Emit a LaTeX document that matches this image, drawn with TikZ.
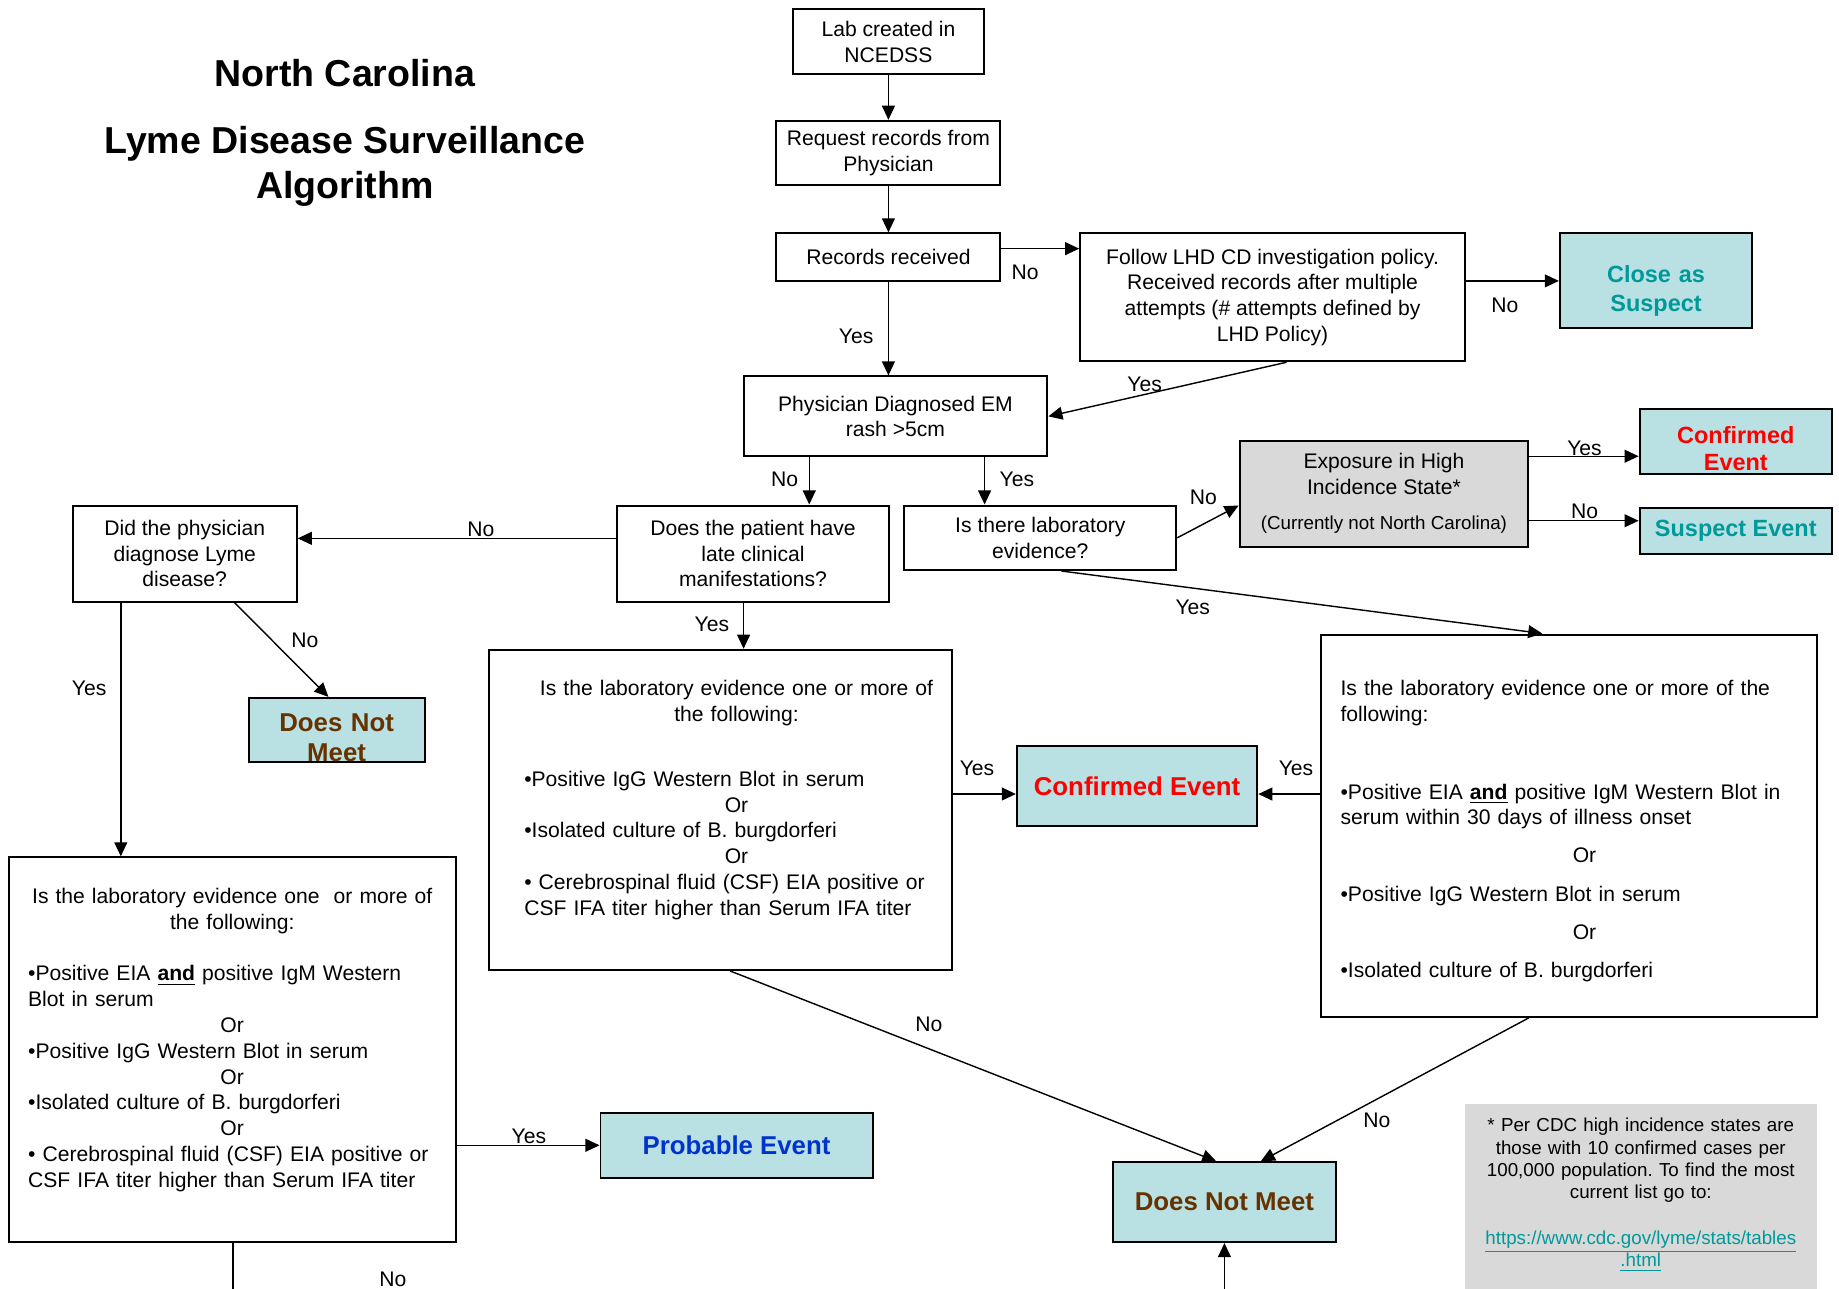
\documentclass[tikz,border=0pt]{standalone}
\usepackage{fontspec}
\setmainfont{Liberation Sans}
\usepackage{tikz}
\usetikzlibrary{arrows.meta,calc,positioning}
\definecolor{boxcyan}{RGB}{185,224,227}
\definecolor{greyfill}{RGB}{217,217,217}
\definecolor{tealtxt}{RGB}{0,153,153}
\definecolor{redtxt}{RGB}{255,0,0}
\definecolor{bluetxt}{RGB}{0,51,204}
\definecolor{browntxt}{RGB}{102,51,0}
\newcommand{\orln}[1]{\makebox[#1]{Or}}
\frenchspacing

\begin{document}
\begin{tikzpicture}[x=0.5pt,y=-0.5pt,
    box/.style={draw,line width=0.85pt,align=center,inner sep=0pt,font=\fontsize{9}{11}\selectfont},
    endbox/.style={box,fill=boxcyan,font=\fontsize{11}{13}\selectfont\bfseries},
    smallend/.style={endbox,font=\fontsize{10}{11.5}\selectfont\bfseries},
    bigbox/.style={draw,line width=0.85pt,align=left,inner ysep=0pt,inner xsep=1.5pt,font=\fontsize{9}{11}\selectfont},
    ttl/.style={font=\fontsize{16}{19}\selectfont\bfseries,inner sep=0pt},
    lbl/.style={font=\fontsize{9}{11}\selectfont,inner sep=0pt},
    flow/.style={line width=0.6pt,-{Triangle[length=6pt,width=5.5pt]}}]
    \useasboundingbox (0,0) rectangle (1568,1099);

    \node[ttl,anchor=base] (ttla) at (294,74) {North Carolina};
    \node[ttl,anchor=base] (ttlb) at (294,131) {Lyme Disease Surveillance};
    \node[ttl,anchor=base] (ttlc) at (294,169) {Algorithm};

    \node[box,minimum width=81.5pt,minimum height=27.5pt] (lab) at (757.5,35.5) {Lab created in\\NCEDSS};
    \node[box,minimum width=95.5pt,minimum height=27.5pt] (req) at (757.5,130.5) {Request records from\\Physician};
    \node[box,minimum width=95.5pt,minimum height=20.5pt] (rec) at (757.5,219.5) {Records received};
    \node[box,minimum width=164pt,minimum height=54.5pt] (lhd) at (1085,253.5) {Follow LHD CD investigation policy.\\Received records after multiple\\attempts (\# attempts defined by\\LHD Policy)};
    \node[smallend,text=tealtxt,font=\fontsize{10}{12.5}\selectfont\bfseries,text width=82pt,text height=21pt,text depth=19.5pt] (close) at (1412,239.5) {Close as\\Suspect};
    \node[box,minimum width=129.5pt,minimum height=34pt] (em) at (763.5,355) {Physician Diagnosed EM\\rash >5cm};
    \node[box,minimum width=116pt,minimum height=27.5pt] (labq) at (887,458.5) {Is there laboratory\\evidence?};
    \node[box,fill=greyfill,minimum width=123pt,minimum height=45pt] (expo) at (1180,421) {Exposure in High\\Incidence State*\\[4pt]{\fontsize{8}{10}\selectfont(Currently not North Carolina)}};
    \node[smallend,text=redtxt,text width=82pt,text height=14.5pt,text depth=13pt] (conf) at (1480,376.5) {Confirmed\\Event};
    \node[smallend,text=tealtxt,minimum width=82pt,minimum height=19.5pt] (susp) at (1480,452.5) {Suspect Event};
    \node[box,minimum width=116pt,minimum height=41pt] (late) at (642,472) {Does the patient have\\late clinical\\manifestations?};
    \node[box,minimum width=95.5pt,minimum height=41pt] (did) at (157.5,472) {Did the physician\\diagnose Lyme\\disease?};
    \node[endbox,text=browntxt,font=\fontsize{11}{12.5}\selectfont\bfseries,text width=75pt,text height=14.5pt,text depth=13pt] (dnma) at (287,622.5) {Does Not\\Meet};

    \node[bigbox,text width=194.5pt,text height=19.7pt,text depth=116.8pt] (labmid) at (614.5,690.5) {\leftskip=13.5pt
      \makebox[181pt]{Is the laboratory evidence one or more of}\\
      \makebox[181pt]{the following:}\\[16.5pt]
      •Positive IgG Western Blot in serum\\
      \orln{181pt}\\
      •Isolated culture of B. burgdorferi\\
      \orln{181pt}\\
      • Cerebrospinal fluid (CSF) EIA positive or\\
      CSF IFA titer higher than Serum IFA titer\par};
    \node[bigbox,text width=208.5pt,text height=26.2pt,text depth=136.8pt] (labright) at (1337.5,704) {\leftskip=7pt
      Is the laboratory evidence one or more of the\\
      following:\\[22pt]
      •Positive EIA \underline{\textbf{and}} positive IgM Western Blot in\\
      serum within 30 days of illness onset\\[5pt]
      \orln{208pt}\\[5.5pt]
      •Positive IgG Western Blot in serum\\[5.5pt]
      \orln{208pt}\\[5pt]
      •Isolated culture of B. burgdorferi\par};
    \node[bigbox,text width=187.5pt,text height=19.7pt,text depth=144.3pt] (lableft) at (198.5,895) {\leftskip=6.5pt
      \makebox[174pt]{Is the laboratory evidence one\ \ or more of}\\
      \makebox[174pt]{the following:}\\[11pt]
      •Positive EIA \underline{\textbf{and}} positive IgM Western\\
      Blot in serum\\
      \orln{174pt}\\
      •Positive IgG Western Blot in serum\\
      \orln{174pt}\\
      •Isolated culture of B. burgdorferi\\
      \orln{174pt}\\
      • Cerebrospinal fluid (CSF) EIA positive or\\
      CSF IFA titer higher than Serum IFA titer\par};

    \node[endbox,text=redtxt,minimum width=102.5pt,minimum height=34pt] (confmid) at (969.5,670) {Confirmed Event};
    \node[endbox,text=bluetxt,minimum width=116pt,minimum height=27.5pt] (prob) at (628,976.5) {Probable Event};
    \node[endbox,text=browntxt,minimum width=95pt,minimum height=34pt] (dnmb) at (1044,1025) {Does Not Meet};

    \node[fill=greyfill,align=center,inner sep=0pt,text width=150pt,text height=11.85pt,text depth=68pt,
      font=\fontsize{8}{9.5}\selectfont,anchor=north] (note) at (1399,941) {* Per CDC high incidence states are\\
      those with 10 confirmed cases per\\100,000 population. To find the most\\current list go to:\\[10pt]
      {\color{tealtxt}\underline{https://www.cdc.gov/lyme/stats/tables}}\\{\color{tealtxt}\underline{.html}}\par};

    \coordinate (recout) at ([yshift=3.75pt]rec.east);
    \coordinate (confin) at ([yshift=-6.25pt]conf.west);
    \coordinate (suspin) at ([yshift=4.25pt]susp.west);
    \coordinate (lateout) at ([yshift=6.5pt]late.west);
    \coordinate (cmw) at ([yshift=-3.5pt]confmid.west);
    \coordinate (cme) at ([yshift=-3.5pt]confmid.east);
    \coordinate (emno) at ([xshift=-36.75pt]em.south);
    \coordinate (emyes) at ([xshift=38pt]em.south);
    \coordinate (lateyes) at ([xshift=-4pt]late.south);
    \coordinate (didyes) at ([xshift=-27.25pt]did.south);
    \coordinate (leftout) at (lableft.south |- 0,1099);
    \coordinate (botin) at (dnmb.south |- 0,1099);

    \draw[flow] (lab) -- (req);
    \draw[flow] (req) -- (rec);
    \draw[flow] (recout) -- (recout -| lhd.west);
    \draw[flow] (rec.south) -- (rec.south |- em.north);
    \draw[flow] ([xshift=6pt]lhd.south) -- (em.east);
    \draw[flow] (lhd.east |- close.west) -- (close.west);
    \draw[flow] (emno) -- (emno |- late.north);
    \draw[flow] (emyes) -- (emyes |- labq.north);
    \draw[flow] (labq.east) -- ([yshift=-5pt]expo.west);
    \draw[flow] (confin -| expo.east) -- (confin);
    \draw[flow] (suspin -| expo.east) -- (suspin);
    \draw[flow] ([xshift=9pt]labq.south) -- ([xshift=-11.25pt]labright.north);
    \draw[flow] (lateout) -- (lateout -| did.east);
    \draw[flow] (lateyes) -- (lateyes |- labmid.north);
    \draw[flow] ([xshift=21.25pt]did.south) -- ([xshift=-3.5pt]dnma.north);
    \draw[flow] (didyes) -- (didyes |- lableft.north);
    \draw[flow] (cmw -| labmid.east) -- (cmw);
    \draw[flow] (cme -| labright.west) -- (cme);
    \draw[flow] (lableft.east |- prob.west) -- (prob.west);
    \draw[flow] ([xshift=4pt]labmid.south) -- ([xshift=-3.5pt]dnmb.north);
    \draw[flow] ([xshift=-17pt]labright.south) -- ([xshift=15.5pt]dnmb.north);
    \draw[line width=0.6pt] (lableft.south) -- (leftout);
    \draw[flow] (botin) -- (dnmb.south);

    \node[lbl] (recno) at (874,232) {No};
    \node[lbl] (recyes) at (730,287) {Yes};
    \node[lbl] (lhdyes) at (976,328) {Yes};
    \node[lbl] (lhdno) at (1283,260) {No};
    \node[lbl] (emnolbl) at (669,409) {No};
    \node[lbl] (emyeslbl) at (867,409) {Yes};
    \node[lbl] (labqno) at (1026,424) {No};
    \node[lbl] (expoyes) at (1351,382) {Yes};
    \node[lbl] (expono) at (1351,436) {No};
    \node[lbl] (labqyes) at (1017,518) {Yes};
    \node[lbl] (lateno) at (410,451) {No};
    \node[lbl] (lateyeslbl) at (607,532) {Yes};
    \node[lbl] (didno) at (260,546) {No};
    \node[lbl] (didyeslbl) at (76,587) {Yes};
    \node[lbl] (midyes) at (833,655) {Yes};
    \node[lbl] (rightyes) at (1105,655) {Yes};
    \node[lbl] (leftyes) at (451,969) {Yes};
    \node[lbl] (midno) at (792,873) {No};
    \node[lbl] (rightno) at (1174,955) {No};
    \node[lbl] (leftno) at (335,1091) {No};
\end{tikzpicture}
\end{document}
